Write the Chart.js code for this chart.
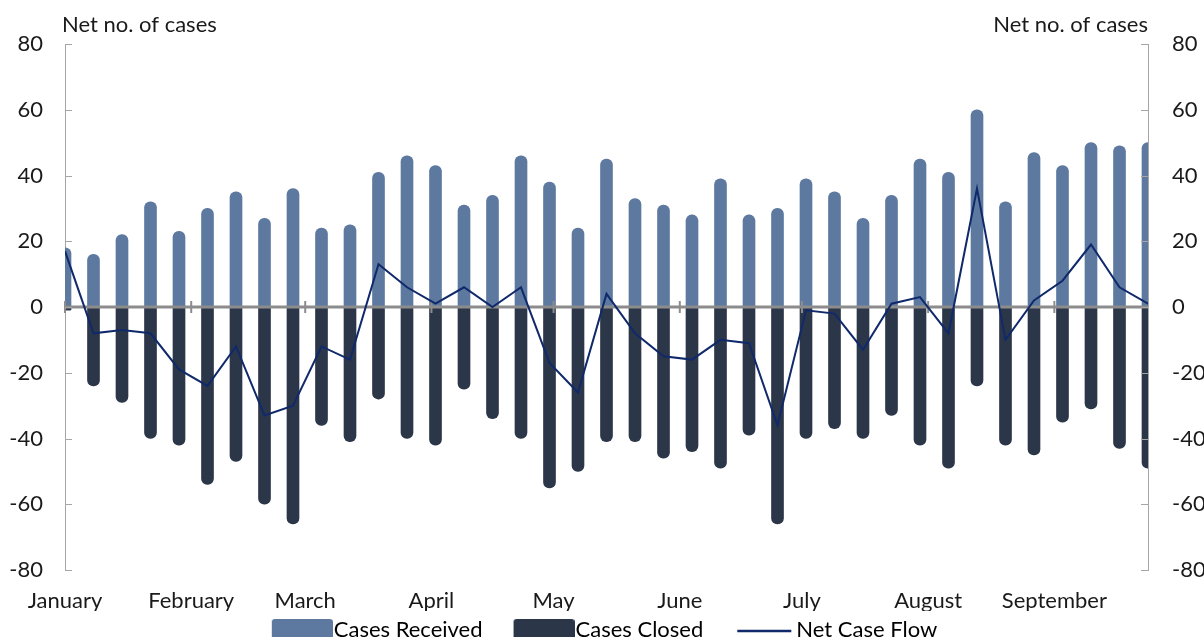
<!DOCTYPE html>
<html>
<head>
<meta charset="utf-8">
<title>Net Case Flow</title>
<script src="https://cdn.jsdelivr.net/npm/chart.js@4.4.0/dist/chart.umd.min.js"></script>
<style>
  html, body { margin: 0; padding: 0; background: #fff; }
  #wrap { width: 1204px; height: 637px; }
</style>
</head>
<body>
<div id="wrap"><canvas id="flowChart"></canvas></div>
<script>
// weekly figures, first week starts 1 January
const received = [18, 16, 22, 32, 23, 30, 35, 27, 36, 24, 25, 41, 46, 43, 31, 34, 46, 38, 24, 45,
                  33, 31, 28, 39, 28, 30, 39, 35, 27, 34, 45, 41, 60, 32, 47, 43, 50, 49, 50];
const closed = [-1, -24, -29, -40, -42, -54, -47, -60, -66, -36, -41, -28, -40, -42, -25, -34, -40, -55, -50, -41,
                -41, -46, -44, -49, -39, -66, -40, -37, -40, -33, -42, -49, -24, -42, -45, -35, -31, -43, -49];
const netFlow = [17, -8, -7, -8, -19, -24, -12, -33, -30, -12, -16, 13, 6, 1, 6, 0, 6, -17, -26, 4,
                 -8, -15, -16, -10, -11, -36, -1, -2, -13, 1, 3, -8, 36, -10, 2, 8, 19, 6, 1];

const monthNames = ["January", "February", "March", "April", "May", "June", "July", "August", "September"];
const monthStartDays = [0, 31, 59, 90, 120, 151, 181, 212, 243];
const yTicks = [-80, -60, -40, -20, 0, 20, 40, 60, 80];

// day of year for each weekly point
const weekDays = received.map((v, i) => i * 7);
const lastDay = weekDays[weekDays.length - 1];

const RECEIVED_COLOR = "#5d799f";
const CLOSED_COLOR = "#2c3649";
const LINE_COLOR = "#10296a";
const AXIS_COLOR = "#a6a6a6";
const ZERO_COLOR = "#8c8c8c";
const TEXT_COLOR = "#1a1a1a";
const FONT_SIZE = 22;
const SWATCH_W = 74;

Chart.defaults.font.family = "Lato";
Chart.defaults.font.size = FONT_SIZE;
Chart.defaults.color = TEXT_COLOR;

function toPoints(values) {
  return values.map((v, i) => ({ x: weekDays[i], y: v }));
}

// legend swatches (drawn as images so the box sits right against the text)
function makeSwatch(color, isLine) {
  const c = document.createElement("canvas");
  c.width = SWATCH_W + FONT_SIZE - 2;
  c.height = 22;
  const g = c.getContext("2d");
  if (isLine) {
    g.strokeStyle = color;
    g.lineWidth = 2.5;
    g.beginPath();
    g.moveTo(c.width - 58, 12);
    g.lineTo(c.width - 4, 12);
    g.stroke();
  } else {
    g.fillStyle = color;
    g.beginPath();
    g.roundRect(c.width - 61, 0, 61, 22, [3, 3, 0, 0]);
    g.fill();
  }
  return c;
}
const swatches = [makeSwatch(RECEIVED_COLOR, false), makeSwatch(CLOSED_COLOR, false), makeSwatch(LINE_COLOR, true)];

// zero line, month ticks, inward y ticks and axis titles
const overlay = {
  id: "overlay",
  afterDatasetDraw(chart, args) {
    if (args.index !== 1) return;
    const { ctx, chartArea: a, scales: { x, y } } = chart;
    const y0 = y.getPixelForValue(0);
    ctx.save();
    ctx.strokeStyle = ZERO_COLOR;
    ctx.lineWidth = 3;
    ctx.beginPath();
    ctx.moveTo(a.left, y0);
    ctx.lineTo(a.right, y0);
    ctx.stroke();
    ctx.lineWidth = 2;
    ctx.beginPath();
    monthStartDays.forEach(d => {
      const px = x.getPixelForValue(d);
      ctx.moveTo(px, y0 - 6);
      ctx.lineTo(px, y0 + 6);
    });
    ctx.stroke();
    ctx.restore();
  },
  afterDraw(chart) {
    const { ctx, chartArea: a, scales: { y } } = chart;
    ctx.save();
    ctx.strokeStyle = AXIS_COLOR;
    ctx.lineWidth = 1;
    ctx.beginPath();
    yTicks.forEach(v => {
      const py = Math.round(y.getPixelForValue(v)) + 0.5;
      ctx.moveTo(a.left, py);
      ctx.lineTo(a.left + 7, py);
      ctx.moveTo(a.right - 7, py);
      ctx.lineTo(a.right, py);
    });
    ctx.stroke();
    ctx.fillStyle = TEXT_COLOR;
    ctx.font = FONT_SIZE + "px Lato";
    ctx.textBaseline = "alphabetic";
    ctx.textAlign = "left";
    ctx.fillText("Net no. of cases", a.left - 3, 32);
    ctx.textAlign = "right";
    ctx.fillText("Net no. of cases", a.right, 32);
    ctx.restore();
  }
};

new Chart(document.getElementById("flowChart"), {
  type: "bar",
  data: {
    datasets: [
      {
        label: "Cases Received",
        data: toPoints(received),
        backgroundColor: RECEIVED_COLOR,
        order: 2
      },
      {
        label: "Cases Closed",
        data: toPoints(closed),
        backgroundColor: CLOSED_COLOR,
        order: 1
      },
      {
        type: "line",
        label: "Net Case Flow",
        data: toPoints(netFlow),
        borderColor: LINE_COLOR,
        borderWidth: 2,
        pointRadius: 0,
        tension: 0,
        order: 0
      }
    ]
  },
  options: {
    responsive: true,
    maintainAspectRatio: false,
    animation: false,
    // negative left padding nudges the centred legend to the left
    layout: { padding: { top: 44, bottom: -14, left: -18, right: 0 } },
    datasets: {
      bar: { grouped: false, barThickness: 12, borderRadius: 6 }
    },
    scales: {
      x: {
        type: "linear",
        min: 0,
        max: lastDay,
        offset: false,
        grid: { display: false, drawTicks: false },
        border: { display: false },
        afterBuildTicks: axis => {
          axis.ticks = monthStartDays.map(v => ({ value: v }));
        },
        ticks: {
          autoSkip: false,
          maxRotation: 0,
          padding: 18,
          callback: v => monthNames[monthStartDays.indexOf(v)]
        },
        afterFit: s => { s.height = 41; }
      },
      y: {
        position: "left",
        min: -80,
        max: 80,
        afterBuildTicks: axis => {
          axis.ticks = yTicks.map(v => ({ value: v }));
        },
        ticks: { padding: 22 },
        grid: { drawOnChartArea: false, drawTicks: false },
        border: { color: AXIS_COLOR, width: 1 },
        afterFit: s => { s.width = 83; }
      },
      y2: {
        position: "right",
        min: -80,
        max: 80,
        afterBuildTicks: axis => {
          axis.ticks = yTicks.map(v => ({ value: v }));
        },
        ticks: { padding: 24 },
        grid: { drawOnChartArea: false, drawTicks: false },
        border: { color: AXIS_COLOR, width: 1 },
        afterFit: s => { s.width = 56; }
      }
    },
    plugins: {
      legend: {
        position: "bottom",
        labels: {
          usePointStyle: true,
          pointStyleWidth: SWATCH_W,
          padding: 8,
          color: TEXT_COLOR,
          font: { size: FONT_SIZE },
          generateLabels: chart => chart.data.datasets.map((ds, i) => ({
            text: ds.label,
            datasetIndex: i,
            pointStyle: swatches[i],
            fillStyle: "transparent",
            strokeStyle: "transparent",
            lineWidth: 0,
            hidden: false
          }))
        }
      },
      tooltip: { enabled: false }
    }
  },
  plugins: [overlay]
});
</script>
</body>
</html>
